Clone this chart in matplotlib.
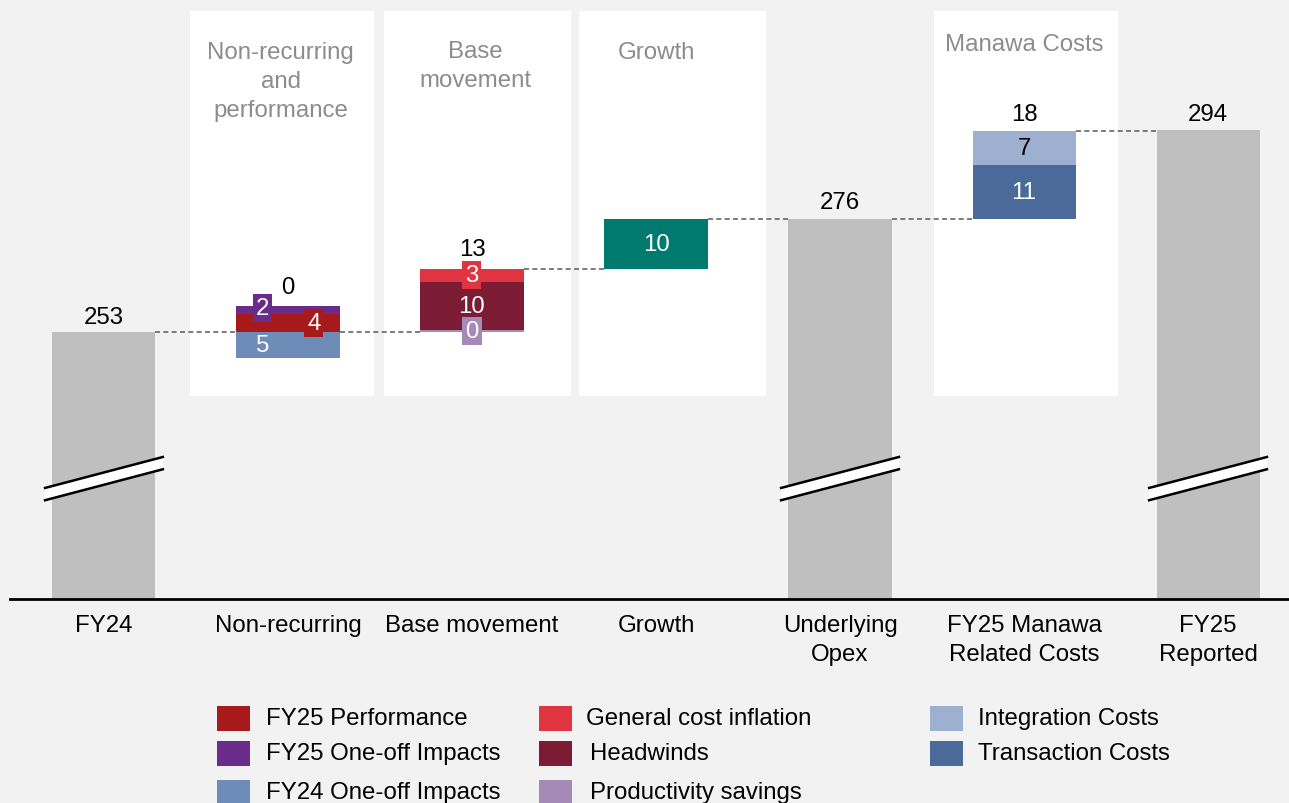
import numpy as np
import matplotlib.pyplot as plt
from matplotlib.patches import Rectangle, Polygon

plt.rcParams['font.family'] = ['Liberation Sans', 'DejaVu Sans']

# Data
categories = ["FY24", "Non-recurring", "Base movement", "Growth",
              "Underlying\nOpex", "FY25 Manawa\nRelated Costs", "FY25\nReported"]
fy24_total = 253
underlying_total = 276
reported_total = 294

# Non-recurring and performance
nr_fy24_oneoff = -5.3
nr_fy25_perf = 3.5
nr_fy25_oneoff = 1.7
# Base movement
bm_productivity = 0.35
bm_headwinds = 9.95
bm_inflation = 2.6
# Growth
growth = 10.2
# Manawa costs
mn_transaction = 11.0
mn_integration = 6.9

total_labels = ["253", "0", "13", None, "276", "18", "294"]
nr_labels = ["5", "4", "2"]
bm_labels = ["0", "10", "3"]
growth_label = "10"
mn_labels = ["11", "7"]

panel_titles = ["Non-recurring\nand\nperformance", "Base\nmovement", "Growth", "Manawa Costs"]

c_gray = '#bfbfbf'
c_perf = '#a61a1c'
c_oneoff25 = '#6a2c8a'
c_oneoff24 = '#6e8cb8'
c_infl = '#e03440'
c_head = '#7b1c34'
c_prod = '#a58ab8'
c_integ = '#9db0cf'
c_trans = '#4a6a9a'
c_growth = '#007a6e'
bg = '#f2f2f2'
fs = 17.3
ls_multi = 1.42

W, H = 1289, 804
fig = plt.figure(figsize=(W / 100, H / 100), dpi=100, facecolor=bg)
ax = fig.add_axes([0, (H - 600) / H, 1, 600 / H])
ax.set_facecolor(bg)
ymin, ymax = 198.6, 320.7
ax.set_ylim(ymin, ymax)
ax.set_xlim(-0.565, 6.44)
for s in ax.spines.values():
    s.set_visible(False)
ax.set_yticks([])
x = np.arange(len(categories))
ax.set_xticks(x)
ax.set_xticklabels(categories, fontsize=fs, linespacing=ls_multi)
ax.tick_params(axis='x', length=0, pad=11)

bw = 0.56

# white panels
panels = [(0.47, 1.47), (1.52, 2.54), (2.58, 3.60), (4.51, 5.51)]
panel_y0, panel_y1 = 239.9, 318.2
for (p0, p1) in panels:
    ax.add_patch(Rectangle((p0, panel_y0), p1 - p0, panel_y1 - panel_y0,
                           fc='white', ec='none', zorder=0))
title_x = [0.96, 2.02, 3.0, 5.0]
title_y = [304.0, 307.1, 309.9, 311.5]
for t, tx, ty in zip(panel_titles, title_x, title_y):
    ax.text(tx, ty, t, ha='center', va='center',
            fontsize=fs, color='#8c8c8c', linespacing=ls_multi)

# total bars
for xi, v in [(0, fy24_total), (4, underlying_total), (6, reported_total)]:
    ax.bar(xi, v - ymin, bottom=ymin, width=bw, color=c_gray, zorder=2)

# non-recurring
nr_start = fy24_total
ax.bar(1, nr_fy24_oneoff, bottom=nr_start, width=bw, color=c_oneoff24, zorder=2)
ax.bar(1, nr_fy25_perf, bottom=nr_start, width=bw, color=c_perf, zorder=2)
ax.bar(1, nr_fy25_oneoff, bottom=nr_start + nr_fy25_perf, width=bw, color=c_oneoff25, zorder=2)
nr_end = nr_start + nr_fy24_oneoff + nr_fy25_perf + nr_fy25_oneoff

# base movement
bm_start = nr_end
ax.bar(2, bm_productivity, bottom=bm_start, width=bw, color=c_prod, zorder=2)
ax.bar(2, bm_headwinds, bottom=bm_start + bm_productivity, width=bw, color=c_head, zorder=2)
ax.bar(2, bm_inflation, bottom=bm_start + bm_productivity + bm_headwinds, width=bw, color=c_infl, zorder=2)
bm_end = bm_start + bm_productivity + bm_headwinds + bm_inflation

# growth
ax.bar(3, growth, bottom=bm_end, width=bw, color=c_growth, zorder=2)
g_end = bm_end + growth

# manawa
ax.bar(5, mn_transaction, bottom=underlying_total, width=bw, color=c_trans, zorder=2)
ax.bar(5, mn_integration, bottom=underlying_total + mn_transaction, width=bw, color=c_integ, zorder=2)
mn_end = underlying_total + mn_transaction + mn_integration

# connectors
conns = [(0, fy24_total), (1, nr_end), (2, bm_end), (3, g_end), (4, underlying_total), (5, mn_end)]
for xi, lvl in conns:
    ax.plot([xi + bw / 2, xi + 1 - bw / 2], [lvl, lvl], ls=(0, (3, 2)),
            color='#666666', lw=1.2, zorder=1)

# totals above
tops = [fy24_total, nr_start + nr_fy25_perf + nr_fy25_oneoff, bm_end, g_end,
        underlying_total, mn_end, reported_total]
offs = [3, 6, 6, 0, 4, 4, 4]
for xi, lab, top, off in zip(x, total_labels, tops, offs):
    if lab is None:
        continue
    ax.annotate(lab, (xi, top), xytext=(0, off), textcoords='offset points',
                ha='center', va='bottom', fontsize=fs, color='black')

# inner labels
ax.text(1 - 0.14, nr_start + nr_fy24_oneoff / 2, nr_labels[0], ha='center', va='center',
        fontsize=fs, color='white', zorder=4)
ax.text(1 + 0.14, nr_start + nr_fy25_perf / 2, nr_labels[1], ha='center', va='center',
        fontsize=fs, color='white', zorder=4,
        bbox=dict(boxstyle='square,pad=0.12', fc=c_perf, ec='none'))
ax.text(1 - 0.14, nr_start + nr_fy25_perf + nr_fy25_oneoff / 2 + 0.5, nr_labels[2],
        ha='center', va='center', fontsize=fs, color='white', zorder=4,
        bbox=dict(boxstyle='square,pad=0.12', fc=c_oneoff25, ec='none'))

ax.text(2, bm_start + bm_productivity / 2, bm_labels[0], ha='center', va='center',
        fontsize=fs, color='white', zorder=4,
        bbox=dict(boxstyle='square,pad=0.12', fc=c_prod, ec='none'))
ax.text(2, bm_start + bm_productivity + bm_headwinds / 2, bm_labels[1], ha='center',
        va='center', fontsize=fs, color='white', zorder=4)
ax.text(2, bm_start + bm_productivity + bm_headwinds + bm_inflation / 2, bm_labels[2],
        ha='center', va='center', fontsize=fs, color='white', zorder=4,
        bbox=dict(boxstyle='square,pad=0.12', fc=c_infl, ec='none'))

ax.text(3, bm_end + growth / 2, growth_label, ha='center', va='center',
        fontsize=fs, color='white', zorder=4)
ax.text(5, underlying_total + mn_transaction / 2, mn_labels[0], ha='center', va='center',
        fontsize=fs, color='white', zorder=4)
ax.text(5, underlying_total + mn_transaction + mn_integration / 2, mn_labels[1],
        ha='center', va='center', fontsize=fs, color='black', zorder=4)

# axis break marks
for xi in [0, 4, 6]:
    xl, xr = xi - 0.32, xi + 0.32
    ax.add_patch(Polygon([(xl, 221.2), (xr, 227.5), (xr, 225.0), (xl, 218.7)],
                         closed=True, fc='white', ec='none', zorder=3))
    ax.plot([xl, xr], [221.2, 227.5], color='black', lw=1.8, zorder=4)
    ax.plot([xl, xr], [218.7, 225.0], color='black', lw=1.8, zorder=4)

# baseline
ax.plot([-0.51, 6.44], [ymin, ymin], color='black', lw=2, clip_on=False, zorder=5)

# legend
legend_items = [
    (217, 719, c_perf, "FY25 Performance", 266),
    (217, 754, c_oneoff25, "FY25 One-off Impacts", 266),
    (217, 793, c_oneoff24, "FY24 One-off Impacts", 266),
    (539, 719, c_infl, "General cost inflation", 586),
    (539, 754, c_head, "Headwinds", 590),
    (539, 793, c_prod, "Productivity savings", 590),
    (930, 719, c_integ, "Integration Costs", 978),
    (930, 754, c_trans, "Transaction Costs", 978),
]
for sx, sy, col, lab, tx in legend_items:
    fig.add_artist(Rectangle((sx / W, (H - sy - 12.5) / H), 33 / W, 25 / H,
                             fc=col, ec='none', transform=fig.transFigure))
    fig.text(tx / W, (H - sy) / H, lab, ha='left', va='center', fontsize=fs)

fig.savefig('out.png', dpi=100, facecolor=bg)
